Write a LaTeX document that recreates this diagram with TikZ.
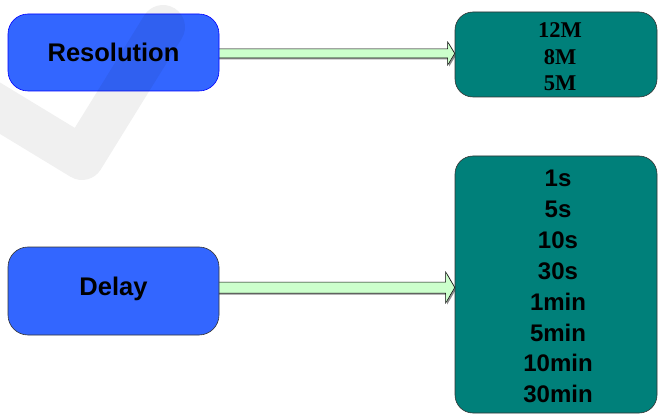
\documentclass[tikz,border=0pt]{standalone}
\usepackage{fontspec}
\setmainfont{Liberation Sans}
\newfontfamily\timesfont{Liberation Serif}
\usetikzlibrary{calc,backgrounds}
\definecolor{boxblue}{RGB}{51,102,255}
\definecolor{boxteal}{RGB}{0,128,122}
\definecolor{arrgreen}{RGB}{204,255,204}
\begin{document}
\begin{tikzpicture}[x=1pt,y=-1pt,
  leftbox/.style={rectangle,rounded corners=20pt,fill=boxblue,minimum width=211pt,inner sep=0pt},
  rightbox/.style={rectangle,rounded corners=18pt,fill=boxteal,draw=black!80,line width=0.6pt,minimum width=202pt,inner sep=0pt},
  labeltext/.style={font=\fontsize{25.5}{30}\selectfont\bfseries,inner sep=0pt},
  timeslist/.style={font=\timesfont\fontsize{22.5}{26.5}\selectfont\bfseries,align=center,inner sep=0pt,anchor=north},
  arialist/.style={font=\fontsize{24}{30.9}\selectfont\bfseries,align=center,inner sep=0pt,anchor=north},
  arrbody/.style={fill=arrgreen,draw=black,line width=0.5pt,line join=miter},
  arrshadow/.style={fill=black!45},
  watermark/.style={draw=black,opacity=0.06,line width=44pt,line cap=round,line join=round}
]
\useasboundingbox (0,0) rectangle (658,414);

% boxes
\node[leftbox,draw=blue,line width=0.6pt,minimum height=77pt] (res) at (113.5,52.5) {};
\node[labeltext] (restext) at (113.5,52) {Resolution};
\node[leftbox,draw=black!80,line width=0.6pt,minimum height=88pt] (del) at (113.5,291) {};
\node[labeltext] (deltext) at (113.5,289) {Delay};

\node[rightbox,minimum height=85pt] (r1) at (556,54.5) {};
\node[timeslist] (r1text) at (560,22.8) {12M\\8M\\5M};
\node[rightbox,minimum height=257pt] (r2) at (556,284.5) {};
\node[arialist] (r2text) at (558,169.8) {1s\\5s\\10s\\30s\\1min\\5min\\10min\\30min};

% arrows
\coordinate (a1) at ([xshift=-3pt]res.east |- 0,53.5);
\coordinate (a2) at (r1.west |- 0,53.5);
\coordinate (b1) at ([xshift=1.5pt,yshift=-1.5pt]a1);
\coordinate (b2) at ([xshift=1.5pt,yshift=-1.5pt]a2);
\coordinate (c1) at ([xshift=-3pt]del.east |- 0,287.5);
\coordinate (c2) at (r2.west |- 0,287.5);
\coordinate (d1) at ([xshift=1.5pt,yshift=-1.5pt]c1);
\coordinate (d2) at ([xshift=1.5pt,yshift=-1.5pt]c2);
\begin{scope}[on background layer]
\fill[arrshadow] ([yshift=4.5pt]b1) -- ([xshift=-7pt,yshift=4.5pt]b2) -- ([xshift=-7pt,yshift=11.5pt]b2) -- (b2) -- ([xshift=-7pt,yshift=-11.5pt]b2) -- ([xshift=-7pt,yshift=-4.5pt]b2) -- ([yshift=-4.5pt]b1) -- cycle;
\draw[arrbody] ([yshift=4.5pt]a1) -- ([xshift=-7pt,yshift=4.5pt]a2) -- ([xshift=-7pt,yshift=11.5pt]a2) -- (a2) -- ([xshift=-7pt,yshift=-11.5pt]a2) -- ([xshift=-7pt,yshift=-4.5pt]a2) -- ([yshift=-4.5pt]a1) -- cycle;
\fill[arrshadow] ([yshift=5.5pt]d1) -- ([xshift=-9pt,yshift=5.5pt]d2) -- ([xshift=-9pt,yshift=15.5pt]d2) -- (d2) -- ([xshift=-9pt,yshift=-15.5pt]d2) -- ([xshift=-9pt,yshift=-5.5pt]d2) -- ([yshift=-5.5pt]d1) -- cycle;
\draw[arrbody] ([yshift=5.5pt]c1) -- ([xshift=-9pt,yshift=5.5pt]c2) -- ([xshift=-9pt,yshift=15.5pt]c2) -- (c2) -- ([xshift=-9pt,yshift=-15.5pt]c2) -- ([xshift=-9pt,yshift=-5.5pt]c2) -- ([yshift=-5.5pt]c1) -- cycle;
\end{scope}

% faint watermark check
\begin{scope}
\clip (0,0) rectangle (658,414);
\draw[watermark] (-30,90) -- (82,158) -- (163,27);
\end{scope}
\end{tikzpicture}
\end{document}
